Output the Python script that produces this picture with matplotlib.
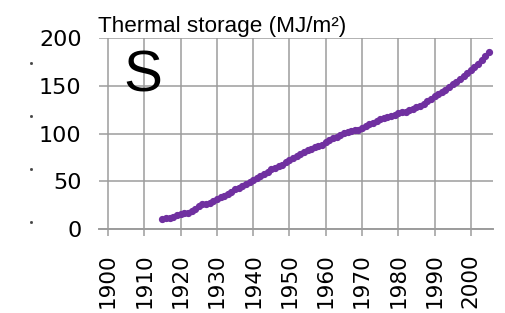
import matplotlib
matplotlib.use("Agg")
import matplotlib.pyplot as plt
from matplotlib import font_manager
from matplotlib.lines import Line2D

years = list(range(1915, 2006))
storage = [10, 11, 12, 13, 15, 16, 17, 17, 19, 21,
           24, 26, 26, 27, 29, 31, 33, 35, 37, 39,
           42, 43, 45, 47, 49, 51, 53, 55, 58, 60,
           63, 64, 66, 67, 70, 72, 74, 76, 79, 81,
           83, 84, 86, 87, 88, 91, 93, 95, 96, 98,
           101, 102, 103, 104, 104, 106, 108, 110, 111, 113,
           115, 116, 117, 118, 119, 121, 122, 123, 125, 126,
           128, 129, 131, 134, 136, 139, 141, 143, 146, 149,
           152, 154, 157, 160, 163, 166, 170, 173, 177, 181,
           185]
xticks = list(range(1900, 2001, 10))
yticks = [0, 50, 100, 150, 200]
title = "Thermal storage (MJ/m²)"
panel = "S"

available = {f.name for f in font_manager.fontManager.ttflist}
narrow = "Liberation Sans Narrow" in available

purple = "#7030A0"
grid_c = "#9c9c9c"

fig = plt.figure(figsize=(5.06, 3.13), dpi=100)
ax = fig.add_axes([99/506, 1-229/313, (493-99)/506, (229-38)/313])
ax.set_xlim(1897.5, 2006.1)
ax.set_ylim(0, 200)

ax.plot(years, storage, color=purple, lw=2.6, marker="o", ms=4.2,
        mec=purple, mfc=purple, solid_capstyle="round", zorder=3, clip_on=False)

ax.set_xticks(xticks)
ax.set_xticklabels([str(t) for t in xticks], rotation=90, fontsize=15.5,
                   family="DejaVu Sans")
ax.set_yticks(yticks)
ax.set_yticklabels([str(t) for t in yticks], fontsize=16, family="DejaVu Sans")
ax.grid(True, color=grid_c, lw=1.1)
ax.set_axisbelow(True)
for s in ["top", "right", "left"]:
    ax.spines[s].set_visible(False)
ax.spines["bottom"].set_color(grid_c)
ax.spines["bottom"].set_linewidth(1.4)
ax.tick_params(axis="x", direction="out", length=5, width=1.1, color=grid_c,
               pad=12.5, labelcolor="black")
ax.tick_params(axis="y", length=0, pad=12.5, labelcolor="black")

if narrow:
    fig.text(98/506, 1-32/313, title, fontsize=18, family="Liberation Sans Narrow",
             va="baseline", ha="left")
else:
    fig.text(98/506, 1-32/313, title, fontsize=16.2, family="Liberation Sans",
             va="baseline", ha="left")

ax.text(0.112, 0.80, panel, transform=ax.transAxes, fontsize=42,
        family="Liberation Sans", ha="center", va="center")

for yy in [62.7, 116, 169, 221.7]:
    fig.add_artist(Line2D([31/506], [1-yy/313], marker="s", ms=1.0, color="#444444",
                          transform=fig.transFigure))

fig.savefig("out.png", dpi=100)
